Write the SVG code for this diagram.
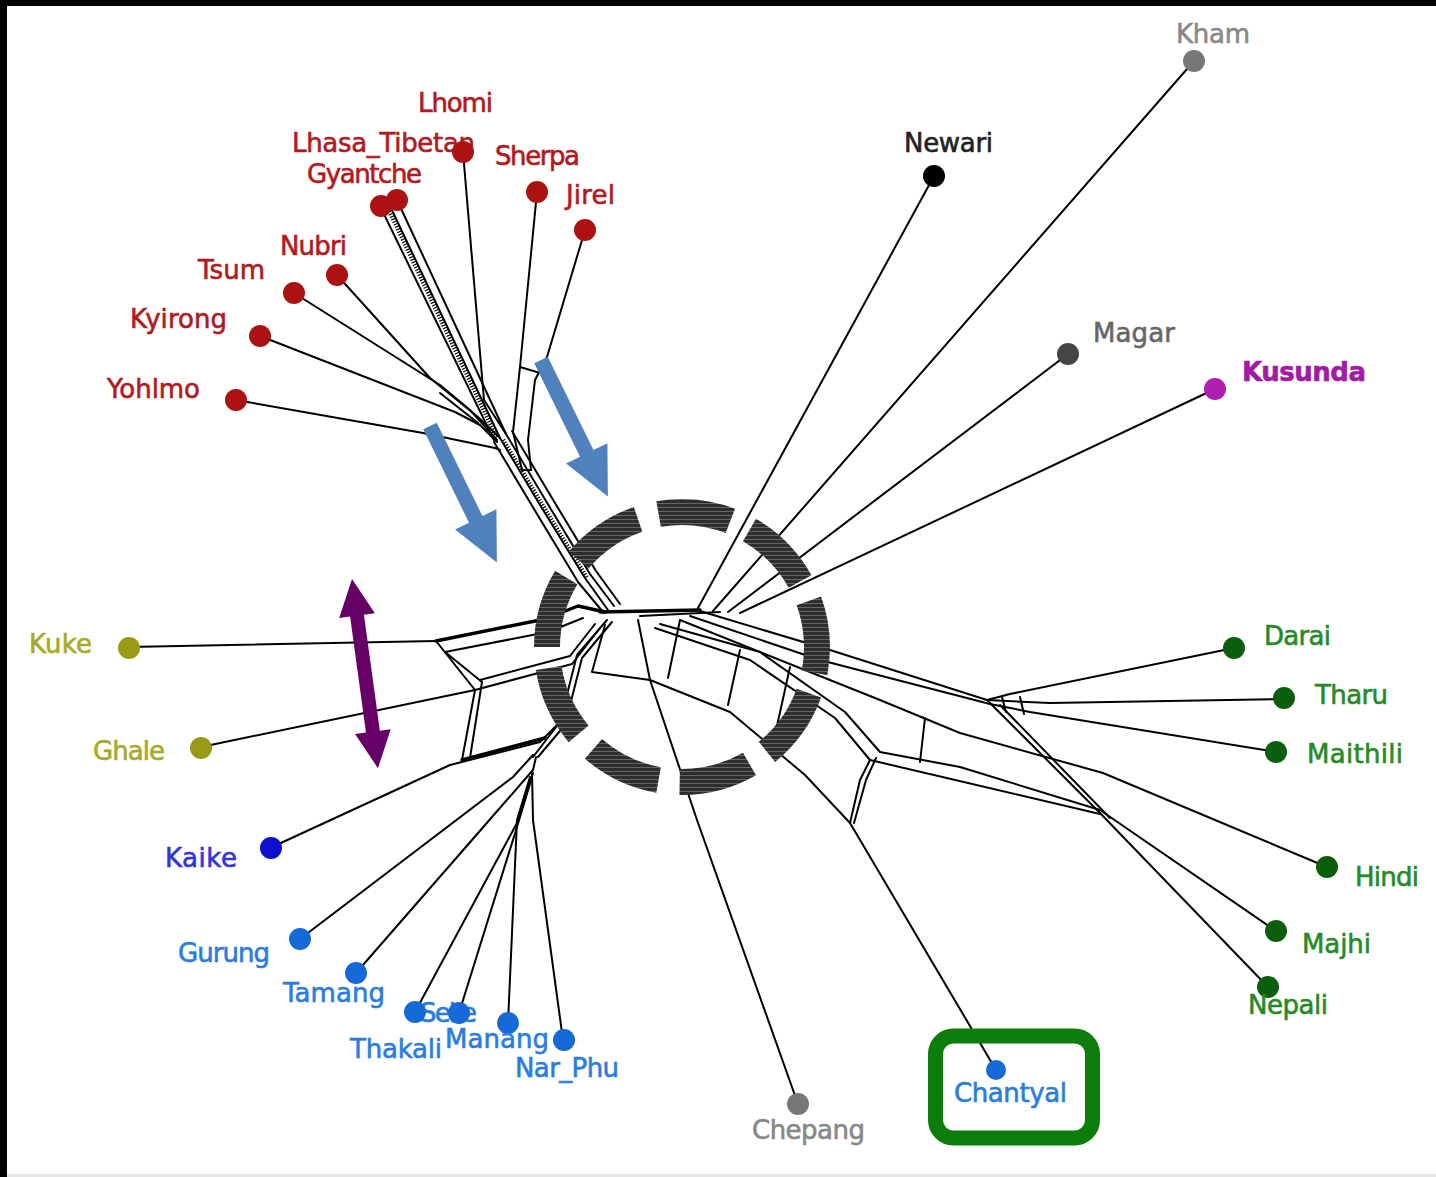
<svg xmlns="http://www.w3.org/2000/svg" xmlns:xlink="http://www.w3.org/1999/xlink" width="1436" height="1177" viewBox="0 0 1436 1177">
  <style>
    .ln { fill: none; stroke: #000; stroke-width: 2; stroke-linejoin: round; stroke-linecap: round; }
    .tk { stroke-width: 3.4; }
    .hatch { stroke-width: 4.5; stroke-dasharray: 1.2 1.6; stroke-linecap: butt; }
    .lbl { font-family: "DejaVu Sans", "Liberation Sans", sans-serif; font-size: 26px; stroke-width: 0.6; }
    .red circle { fill: #ad1212; } .red text { fill: #b3191e; stroke: #b3191e; }
    .olive circle { fill: #9b9a16; } .olive text { fill: #a6ab2a; stroke: #a6ab2a; }
    .navy circle { fill: #0f10cf; } .navy text { fill: #3434dc; stroke: #3434dc; }
    .blue circle { fill: #156ad8; } .blue text { fill: #2a7ce0; stroke: #2a7ce0; }
    .green circle { fill: #0b5e0b; } .green text { fill: #268a26; stroke: #268a26; }
    .grey circle { fill: #777; } .grey text { fill: #888; stroke: #888; }
  </style>
  <defs>
    <!-- single-headed arrow along +x, tip at x=152 -->
    <path id="blueArrow" d="M0,-7.5 L104,-7.5 L104,-23 L152,0 L104,23 L104,7.5 L0,7.5 Z" fill="#4f81bd"/>
    <!-- double-headed arrow along +x, tips at 0 and 191 -->
    <path id="purpleArrow" d="M0,0 L37,-18 L37,-7 L154,-7 L154,-18 L191,0 L154,18 L154,7 L37,7 L37,18 Z" fill="#660066"/>
    <pattern id="ringTex" width="4" height="4" patternUnits="userSpaceOnUse">
      <rect width="4" height="4" fill="#2e2e2e"/>
      <rect y="3" width="4" height="1" fill="#666"/>
    </pattern>
  </defs>

  <rect width="1436" height="1177" fill="#fff"/>

  <!-- network edges -->
  <g id="connectors">
    <!-- top-left bundle into the hub -->
    <path class="ln" d="M494,442 L534,509 L578,582 L603,612"/>
    <path class="ln" d="M500,438 L540,505 L585,578 L608,610"/>
    <path class="ln" d="M506,434 L546,501 L590,574 L614,606"/>
    <path class="ln" d="M512,431 L552,498 L596,571 L620,604"/>
    <path class="ln hatch" d="M503,440 L543,506 L587,578"/>
    <path class="ln" d="M522,470 L531,470"/>

    <!-- Tibetan leaves -->
    <path class="ln" d="M380,206 L494,440"/>
    <path class="ln" d="M390,206 L500,438"/>
    <path class="ln hatch" d="M387,206 L497,438"/>
    <path class="ln" d="M397,200 L506,434"/>
    <path class="ln" d="M463,152 L484,400 L506,434"/>
    <path class="ln" d="M537,192 L520,367 L513,432 L522,470"/>
    <path class="ln" d="M585,230 L547,357 L535,380 L528,440 L531,470"/>
    <path class="ln" d="M520,367 L547,375"/>
    <path class="ln" d="M337,275 L430,378 L478,417 L500,438"/>
    <path class="ln" d="M294,293 L440,385 L470,410 L497,440"/>
    <path class="ln" d="M260,336 L455,412 L480,425 L497,442"/>
    <path class="ln" d="M440,393 L478,423"/>
    <path class="ln" d="M236,400 L423,433 L495,448 L500,450"/>

    <!-- hub -->
    <path class="ln tk" d="M600,612 L700,610"/>
    <path class="ln" d="M640,616 L720,612"/>

    <!-- upper right leaves -->
    <path class="ln" d="M1194,61 L713,611"/>
    <path class="ln" d="M934,176 L698,608"/>
    <path class="ln" d="M1068,354 L728,612"/>
    <path class="ln" d="M1215,389 L740,613"/>

    <!-- right side splits -->
    <path class="ln" d="M700,611 L830,650 L987,700"/>
    <path class="ln" d="M690,616 L820,660 L990,704"/>
    <path class="ln" d="M680,620 L880,700 L960,733 L1103,773 L1327,867"/>
    <path class="ln" d="M660,624 L760,652 L845,712 L880,752 L960,767 L1100,810 L1276,931"/>
    <path class="ln" d="M655,628 L750,660 L835,718 L870,760 L1100,814"/>
    <path class="ln" d="M987,700 L1100,813 L1268,987"/>
    <path class="ln" d="M1000,705 L1110,818"/>
    <path class="ln" d="M987,700 L1010,694 L1234,648"/>
    <path class="ln" d="M987,700 L1050,703 L1284,699"/>
    <path class="ln" d="M990,704 L1030,712 L1276,752"/>
    <path class="ln" d="M1002,697 L1006,712 M1020,697 L1024,714"/>
    <path class="ln" d="M740,650 L728,705 M790,667 L775,735 M925,718 L920,762"/>

    <!-- lower arc, Chepang and Chantyal -->
    <path class="ln" d="M605,625 L592,672 L650,680 L730,712 L805,775 L850,823"/>
    <path class="ln" d="M638,620 L650,680 L697,820 L798,1104"/>
    <path class="ln" d="M996,1070 L850,823 L860,780 L870,760"/>
    <path class="ln" d="M854,823 L866,780 L876,758"/>
    <path class="ln" d="M680,620 L668,678"/>

    <!-- left side splits -->
    <path class="ln" d="M128,647 L436,641"/>
    <path class="ln tk" d="M436,641 L545,619 L578,606 L605,612"/>
    <path class="ln" d="M445,652 L548,632 L583,618"/>
    <path class="ln" d="M436,641 L475,690 M445,652 L482,682"/>
    <path class="ln" d="M201,747 L475,690 L572,664 L600,628"/>
    <path class="ln" d="M480,680 L570,656 L595,624"/>
    <path class="ln" d="M475,690 L462,760 M482,682 L470,758"/>
    <path class="ln" d="M270,848 L450,765 L540,742 L560,722"/>
    <path class="ln tk" d="M462,760 L545,738"/>
    <path class="ln" d="M533,757 L560,722 L577,655 L607,620"/>
    <path class="ln" d="M538,757 L565,725 L582,658 L612,622"/>

    <!-- lower-left leaves -->
    <path class="ln" d="M300,939 L513,777 L533,755"/>
    <path class="ln" d="M356,973 L533,770 L536,757"/>
    <path class="ln" d="M415,1012 L517,823 L533,773"/>
    <path class="ln" d="M459,1013 L517,827 L532,777"/>
    <path class="ln" d="M508,1023 L517,820 L530,777"/>
    <path class="ln" d="M563,1040 L533,820 L532,773"/>
  </g>

  <!-- taxa -->
  <g class="lbl">
    <g id="node-kham" class="grey"><circle cx="1194" cy="61" r="11"/><text x="1176" y="43" textLength="74">Kham</text></g>
    <g id="node-newari"><circle cx="934" cy="176" r="11" fill="#000"/><text x="904" y="152" textLength="89" fill="#222" stroke="#222">Newari</text></g>
    <g id="node-magar"><circle cx="1068" cy="354" r="11" fill="#444"/><text x="1093" y="342" textLength="82" fill="#666" stroke="#666">Magar</text></g>
    <g id="node-kusunda"><circle cx="1215" cy="389" r="11" fill="#b01fb0"/><text x="1242" y="381" textLength="124" fill="#a21aa6" stroke="#a21aa6" font-weight="bold">Kusunda</text></g>

    <g id="node-darai" class="green"><circle cx="1234" cy="648" r="11"/><text x="1264" y="645" textLength="67">Darai</text></g>
    <g id="node-tharu" class="green"><circle cx="1284" cy="698" r="11"/><text x="1315" y="704" textLength="73">Tharu</text></g>
    <g id="node-maithili" class="green"><circle cx="1276" cy="752" r="11"/><text x="1307" y="763" textLength="96">Maithili</text></g>
    <g id="node-hindi" class="green"><circle cx="1327" cy="867" r="11"/><text x="1355" y="886" textLength="64">Hindi</text></g>
    <g id="node-majhi" class="green"><circle cx="1276" cy="931" r="11"/><text x="1302" y="953" textLength="69">Majhi</text></g>
    <g id="node-nepali" class="green"><circle cx="1268" cy="987" r="11"/><text x="1248" y="1014" textLength="80">Nepali</text></g>

    <g id="node-chantyal" class="blue"><circle cx="996" cy="1070" r="10"/><text x="954" y="1102" textLength="113">Chantyal</text></g>
    <g id="node-chepang" class="grey"><circle cx="798" cy="1104" r="11"/><text x="752" y="1139" textLength="113">Chepang</text></g>

    <g id="node-narphu" class="blue"><circle cx="564" cy="1040" r="11"/><text x="515" y="1077" textLength="104">Nar_Phu</text></g>
    <g id="node-seke" class="blue"><text x="420" y="1022" textLength="57">Seke</text><circle cx="459" cy="1013" r="11"/></g>
    <g id="node-manang" class="blue"><circle cx="508" cy="1023" r="11"/><text x="445" y="1048" textLength="104">Manang</text></g>
    <g id="node-thakali" class="blue"><circle cx="415" cy="1012" r="11"/><text x="350" y="1058" textLength="92">Thakali</text></g>
    <g id="node-tamang" class="blue"><circle cx="356" cy="973" r="11"/><text x="283" y="1002" textLength="102">Tamang</text></g>
    <g id="node-gurung" class="blue"><circle cx="300" cy="939" r="11"/><text x="178" y="962" textLength="92">Gurung</text></g>
    <g id="node-kaike" class="navy"><circle cx="271" cy="848" r="11"/><text x="165" y="867" textLength="72">Kaike</text></g>

    <g id="node-ghale" class="olive"><circle cx="201" cy="748" r="11"/><text x="93" y="760" textLength="72">Ghale</text></g>
    <g id="node-kuke" class="olive"><circle cx="129" cy="648" r="11"/><text x="29" y="653" textLength="63">Kuke</text></g>

    <g id="node-yohlmo" class="red"><circle cx="236" cy="400" r="11"/><text x="107" y="398" textLength="93">Yohlmo</text></g>
    <g id="node-kyirong" class="red"><circle cx="260" cy="336" r="11"/><text x="130" y="328" textLength="97">Kyirong</text></g>
    <g id="node-tsum" class="red"><circle cx="294" cy="293" r="11"/><text x="198" y="279" textLength="67">Tsum</text></g>
    <g id="node-nubri" class="red"><circle cx="337" cy="275" r="11"/><text x="280" y="255" textLength="67">Nubri</text></g>
    <g id="node-gyantche" class="red"><circle cx="381" cy="206" r="11"/><text x="307" y="183" textLength="115">Gyantche</text></g>
    <g id="node-lhasa" class="red"><circle cx="397" cy="200" r="11"/><text x="292" y="152" textLength="183">Lhasa_Tibetan</text></g>
    <g id="node-lhomi" class="red"><circle cx="463" cy="152" r="11"/><text x="418" y="112" textLength="75">Lhomi</text></g>
    <g id="node-sherpa" class="red"><circle cx="537" cy="192" r="11"/><text x="495" y="165" textLength="85">Sherpa</text></g>
    <g id="node-jirel" class="red"><circle cx="585" cy="230" r="11"/><text x="566" y="204" textLength="49">Jirel</text></g>
  </g>

  <!-- annotations -->
  <g id="annotations">
    <circle cx="682" cy="647" r="135" fill="none" stroke="url(#ringTex)" stroke-width="26" pathLength="360" stroke-dasharray="31 9" stroke-dashoffset="20"/>
    <use xlink:href="#blueArrow" transform="translate(430,426) rotate(63.9)"/>
    <use xlink:href="#blueArrow" transform="translate(541,360) rotate(63.9)"/>
    <use xlink:href="#purpleArrow" transform="translate(352,579) rotate(82.2)"/>
    <rect x="935.5" y="1036" width="157" height="102" rx="18" fill="none" stroke="#0a7d0a" stroke-width="15"/>
  </g>

  <!-- frame edges -->
  <rect x="0" y="0" width="7" height="1177" fill="#000"/>
  <rect x="0" y="0" width="1436" height="6" fill="#000"/>
  <rect x="7" y="1174" width="1429" height="3" fill="#e6e6e6"/>
</svg>
